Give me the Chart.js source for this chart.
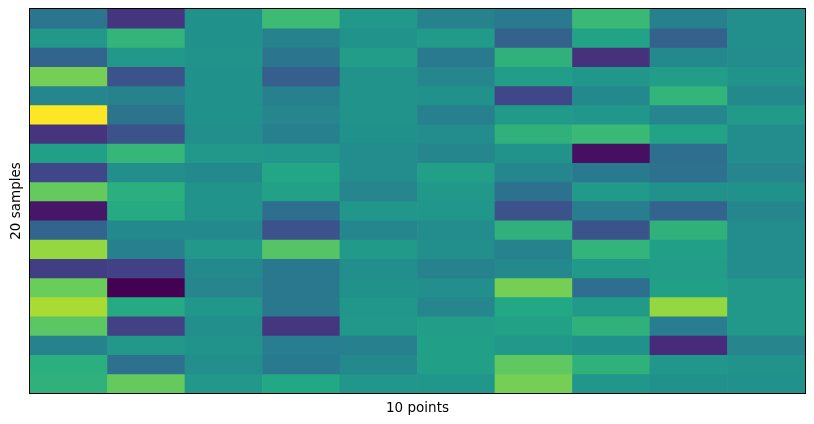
<!DOCTYPE html>
<html>
<head>
<meta charset="utf-8">
<script src="https://cdn.jsdelivr.net/npm/chart.js@4.4.1/dist/chart.umd.min.js"></script>
<style>
  html, body { margin: 0; padding: 0; background: #fff; }
  #heat { display: block; }
</style>
</head>
<body>
<canvas id="heat" width="814" height="424"></canvas>
<script>
// 10 columns (points) x 20 rows (samples), values on a 0..1 colour scale
var points = ['1', '2', '3', '4', '5', '6', '7', '8', '9', '10'];

var row0  = [0.39, 0.15, 0.50, 0.68, 0.53, 0.44, 0.41, 0.67, 0.43, 0.49];
var row1  = [0.53, 0.65, 0.50, 0.44, 0.51, 0.54, 0.31, 0.58, 0.31, 0.49];
var row2  = [0.32, 0.53, 0.51, 0.39, 0.55, 0.41, 0.64, 0.14, 0.47, 0.48];
var row3  = [0.79, 0.25, 0.50, 0.30, 0.51, 0.46, 0.55, 0.52, 0.55, 0.51];
var row4  = [0.46, 0.44, 0.50, 0.43, 0.51, 0.50, 0.21, 0.47, 0.65, 0.47];
var row5  = [1.00, 0.38, 0.50, 0.45, 0.51, 0.43, 0.54, 0.52, 0.46, 0.54];
var row6  = [0.15, 0.25, 0.49, 0.43, 0.50, 0.48, 0.64, 0.67, 0.58, 0.48];
var row7  = [0.56, 0.66, 0.53, 0.52, 0.48, 0.46, 0.51, 0.04, 0.36, 0.48];
var row8  = [0.21, 0.49, 0.47, 0.59, 0.48, 0.56, 0.46, 0.41, 0.37, 0.45];
var row9  = [0.76, 0.63, 0.51, 0.57, 0.45, 0.53, 0.37, 0.54, 0.50, 0.50];
var row10 = [0.06, 0.61, 0.51, 0.36, 0.52, 0.52, 0.25, 0.42, 0.32, 0.46];
var row11 = [0.32, 0.47, 0.47, 0.25, 0.46, 0.48, 0.64, 0.26, 0.64, 0.48];
var row12 = [0.84, 0.43, 0.53, 0.73, 0.54, 0.49, 0.44, 0.65, 0.56, 0.48];
var row13 = [0.18, 0.19, 0.47, 0.40, 0.49, 0.44, 0.47, 0.54, 0.55, 0.48];
var row14 = [0.77, 0.00, 0.45, 0.40, 0.50, 0.49, 0.79, 0.36, 0.56, 0.53];
var row15 = [0.87, 0.61, 0.52, 0.40, 0.52, 0.46, 0.60, 0.54, 0.84, 0.53];
var row16 = [0.74, 0.19, 0.49, 0.16, 0.53, 0.55, 0.57, 0.64, 0.42, 0.53];
var row17 = [0.44, 0.53, 0.51, 0.42, 0.43, 0.56, 0.53, 0.50, 0.12, 0.45];
var row18 = [0.63, 0.37, 0.49, 0.41, 0.47, 0.56, 0.75, 0.64, 0.52, 0.51];
var row19 = [0.64, 0.76, 0.53, 0.60, 0.52, 0.52, 0.79, 0.52, 0.50, 0.50];

var samples = [row0, row1, row2, row3, row4, row5, row6, row7, row8, row9,
               row10, row11, row12, row13, row14, row15, row16, row17, row18, row19];

// viridis stops
var viridis = [
    [68, 1, 84], [72, 36, 117], [65, 68, 135], [53, 95, 141], [42, 120, 142],
    [33, 145, 140], [34, 168, 132], [68, 191, 112], [122, 209, 81], [189, 223, 38],
    [253, 231, 37]
];

function viridisColor(t) {
    t = Math.max(0, Math.min(1, t));
    var p = t * 10, i = Math.min(9, Math.floor(p)), f = p - i;
    var a = viridis[i], b = viridis[i + 1];
    var c = [0, 1, 2].map(function (k) { return Math.round(a[k] + (b[k] - a[k]) * f); });
    return 'rgb(' + c.join(',') + ')';
}

// one stacked dataset per sample row, each cell one unit tall
var datasets = samples.map(function (row, r) {
    return {
        label: 'sample ' + (r + 1),
        data: row.map(function () { return 1; }),
        backgroundColor: row.map(viridisColor),
        borderWidth: 0,
        barPercentage: 1,
        categoryPercentage: 1
    };
});

var frame = {
    id: 'frame',
    afterDraw: function (chart) {
        var a = chart.chartArea, ctx = chart.ctx;
        ctx.save();
        ctx.strokeStyle = '#000';
        ctx.lineWidth = 1;
        ctx.strokeRect(a.left - 0.5, a.top - 0.5, a.right - a.left + 1, a.bottom - a.top + 1);
        ctx.restore();
    }
};

Chart.defaults.font.family = '"DejaVu Sans", sans-serif';
Chart.defaults.color = '#000';

new Chart('heat', {
    type: 'bar',
    data: { labels: points, datasets: datasets },
    plugins: [frame],
    options: {
        responsive: false,
        animation: false,
        layout: { padding: { top: 9, right: 9, left: 0, bottom: 0 } },
        plugins: { legend: { display: false }, tooltip: { enabled: false } },
        scales: {
            x: {
                stacked: true,
                grid: { display: false },
                border: { display: false },
                ticks: { display: false },
                title: { display: true, text: '10 points', font: { size: 13.5 }, padding: { top: 2, bottom: 7 } },
                afterFit: function (s) { s.height = 31; }
            },
            y: {
                stacked: true,
                reverse: true,
                min: 0,
                max: 20,
                grid: { display: false },
                border: { display: false },
                ticks: { display: false },
                title: { display: true, text: '20 samples', font: { size: 13.5 }, padding: { top: 8, bottom: 4 } },
                afterFit: function (s) { s.width = 30; }
            }
        }
    }
});
</script>
</body>
</html>
